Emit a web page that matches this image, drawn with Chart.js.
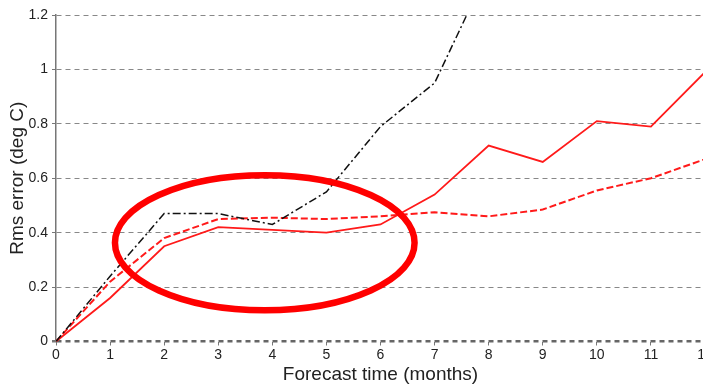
<!DOCTYPE html>
<html>
<head>
<meta charset="utf-8">
<script src="https://cdn.jsdelivr.net/npm/chart.js@4/dist/chart.umd.min.js"></script>
<style>
  html, body { margin: 0; padding: 0; background: #fff; overflow: hidden; }
  #wrap { width: 720px; height: 386px; }
</style>
</head>
<body>
<div id="wrap"><canvas id="c" width="720" height="386"></canvas></div>
<script>
// forecast lead (months)
const months = [0, 1, 2, 3, 4, 5, 6, 7, 8, 9, 10, 11, 12];

// rms error, deg C
const blackDashDot = [0, 0.24, 0.47, 0.47, 0.43, 0.55, 0.79, 0.95, 1.37];
const redSolid     = [0, 0.16, 0.35, 0.42, 0.41, 0.40, 0.43, 0.54, 0.72, 0.66, 0.81, 0.79, 0.99];
const redDashed    = [0, 0.22, 0.38, 0.45, 0.455, 0.45, 0.46, 0.475, 0.46, 0.485, 0.555, 0.60, 0.67];

const yTicks = [0, 0.2, 0.4, 0.6, 0.8, 1, 1.2];

// highlight ellipse, in data units
const ring = { x: 3.86, y: 0.363, rx: 2.77, ry: 0.248 };

const toPts = arr => arr.map((v, i) => ({ x: months[i], y: v }));

const ellipsePlugin = {
    id: 'ring',
    afterDatasetsDraw(chart) {
        const { ctx, scales: { x, y } } = chart;
        const cx = x.getPixelForValue(ring.x), cy = y.getPixelForValue(ring.y);
        const rx = Math.abs(x.getPixelForValue(ring.x + ring.rx) - cx);
        const ry = Math.abs(y.getPixelForValue(ring.y + ring.ry) - cy);
        ctx.save();
        ctx.beginPath();
        ctx.ellipse(cx, cy, rx, ry, 0, 0, Math.PI * 2);
        ctx.strokeStyle = '#ff0000';
        ctx.lineWidth = 6.5;
        ctx.stroke();
        ctx.restore();
    }
};

new Chart(document.getElementById('c'), {
    type: 'line',
    data: {
        datasets: [
            { data: toPts(blackDashDot), borderColor: '#111', borderWidth: 1.5, borderDash: [8, 3, 2, 3] },
            { data: toPts(redSolid), borderColor: '#ff1a1a', borderWidth: 1.8 },
            { data: toPts(redDashed), borderColor: '#ff1a1a', borderWidth: 2, borderDash: [7, 3] }
        ]
    },
    options: {
        responsive: false,
        animation: false,
        layout: { padding: { top: 15, right: 15, left: 0, bottom: 0 } },
        elements: { point: { radius: 0 }, line: { tension: 0, fill: false } },
        plugins: { legend: { display: false }, tooltip: { enabled: false } },
        scales: {
            x: {
                type: 'linear', min: 0, max: 12,
                afterFit: s => { s.height = 44.5; },
                ticks: { stepSize: 1, color: '#222', padding: 1, maxRotation: 0,
                         font: { family: 'Liberation Sans', size: 14 } },
                grid: { drawOnChartArea: false, tickLength: 4, color: '#777' },
                border: { display: false },
                title: { display: true, text: 'Forecast time (months)', color: '#222',
                         font: { family: 'Liberation Sans', size: 19 }, padding: { top: 0, bottom: 0 } }
            },
            y: {
                min: 0, max: 1.2,
                afterFit: s => { s.width = 56; },
                afterBuildTicks: s => { s.ticks = yTicks.map(v => ({ value: v })); },
                ticks: { color: '#222', padding: 4, callback: v => String(+v.toFixed(1)),
                         font: { family: 'Liberation Sans', size: 14 } },
                grid: { color: ctx => ctx.tick && ctx.tick.value === 0 ? '#666' : '#888',
                        lineWidth: ctx => ctx.tick && ctx.tick.value === 0 ? 2.5 : 1,
                        tickLength: 4, tickColor: '#777' },
                border: { color: '#777', width: 1.5, dash: [5, 4] },
                title: { display: true, text: 'Rms error (deg C)', color: '#222',
                         font: { family: 'Liberation Sans', size: 19 }, padding: { top: 6, bottom: 0 } }
            }
        }
    },
    plugins: [ellipsePlugin]
});
</script>
</body>
</html>
